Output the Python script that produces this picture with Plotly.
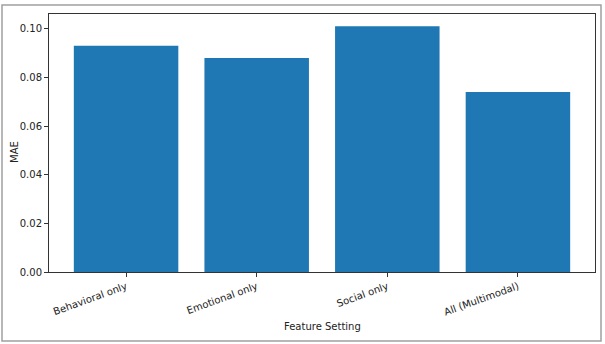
import plotly.graph_objects as go

categories = ["Behavioral only", "Emotional only", "Social only", "All (Multimodal)"]
mae_values = [0.093, 0.088, 0.101, 0.074]
y_ticks = [0.00, 0.02, 0.04, 0.06, 0.08, 0.10]
y_tick_labels = ["0.00", "0.02", "0.04", "0.06", "0.08", "0.10"]

FONT = "DejaVu Sans"
W, H = 605, 344
L, R, T, B = 49, 10, 14, 72
pw, ph = W - L - R, H - T - B

fig = go.Figure(go.Bar(
    x=categories, y=mae_values, width=0.8,
    marker=dict(color="#1f77b4", line=dict(width=0)),
))

ymax = max(mae_values) * 1.05

fig.update_layout(
    width=W, height=H,
    margin=dict(l=L, r=R, t=T, b=B, pad=0),
    paper_bgcolor="white", plot_bgcolor="white",
    font=dict(family=FONT, size=10, color="#222"),
    showlegend=False,
    bargap=0.2,
    xaxis=dict(
        range=[-0.59, 3.59], showgrid=False, zeroline=False,
        showline=True, linecolor="#333", linewidth=1, mirror=True,
        ticks="outside", ticklen=4, tickcolor="#333",
        tickangle=-20, tickfont=dict(family=FONT, size=10, color="#222"),
    ),
    yaxis=dict(
        range=[0, ymax], showgrid=False, zeroline=False,
        showline=True, linecolor="#333", linewidth=1, mirror=True,
        ticks="outside", ticklen=4, tickcolor="#333",
        tickvals=y_ticks, ticktext=y_tick_labels,
        tickfont=dict(family=FONT, size=10, color="#222"),
    ),
    annotations=[
        dict(text="Feature Setting", xref="paper", yref="paper",
             x=0.5, y=(272 - 326) / ph, xanchor="center", yanchor="middle",
             showarrow=False, font=dict(family=FONT, size=10, color="#222")),
        dict(text="MAE", xref="paper", yref="paper",
             x=(14 - L) / pw, y=(272 - 152) / ph, xanchor="center", yanchor="middle",
             textangle=-90, showarrow=False, font=dict(family=FONT, size=10, color="#222")),
    ],
    shapes=[
        dict(type="rect", xref="paper", yref="paper",
             x0=(2 - L) / pw, x1=(601 - L) / pw,
             y0=(272 - 341) / ph, y1=(272 - 5) / ph,
             line=dict(color="#a0a0a0", width=1.5), fillcolor="rgba(0,0,0,0)", layer="above"),
    ],
)

fig.write_html("out.html")
